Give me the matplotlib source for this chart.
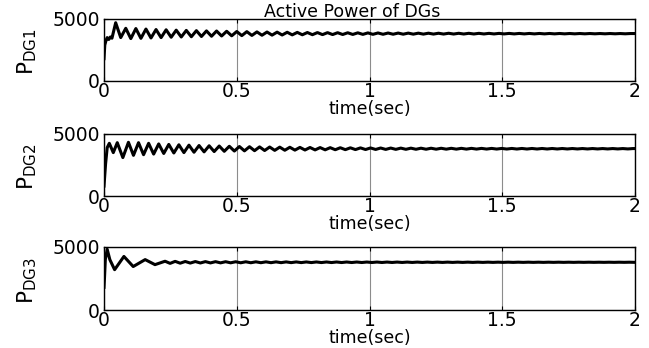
import numpy as np
import matplotlib
matplotlib.use("Agg")
import matplotlib.pyplot as plt

# ---------------------------------------------------------------
# Simulated active power of three distributed generators (W)
# ---------------------------------------------------------------
half_period = 0.019  # spacing between successive ripple extremes (s)
t_end = 2.0

# DG1: start-up transient, then alternating ripple peaks / troughs
dg1_t_start = [0.0, 0.003, 0.008, 0.012, 0.018, 0.024, 0.030]
dg1_p_start = [1800, 2900, 3300, 3500, 3350, 3550, 3450]
dg1_t_ripple0 = 0.044
dg1_peaks = [4700, 4250, 4230, 4190, 4150, 4130, 4100, 4080, 4060, 4040,
             4030, 4010, 3990, 3980, 3960, 3950, 3940, 3930, 3920, 3910,
             3905, 3900, 3895, 3890, 3885, 3880, 3875, 3870, 3866, 3862,
             3858, 3855, 3852, 3850, 3848, 3846, 3844, 3842, 3840, 3838,
             3836, 3835, 3834, 3833, 3832, 3831, 3830, 3830, 3829, 3829,
             3828, 3828]
dg1_troughs = [3500, 3420, 3440, 3470, 3500, 3530, 3550, 3570, 3590, 3610,
               3630, 3645, 3660, 3675, 3690, 3700, 3710, 3720, 3728, 3735,
               3740, 3745, 3750, 3755, 3760, 3764, 3768, 3772, 3775, 3778,
               3781, 3784, 3786, 3788, 3790, 3792, 3794, 3796, 3797, 3798,
               3799, 3800, 3801, 3802, 3803, 3804, 3805, 3806, 3806, 3807,
               3807]

# DG2
dg2_t_start = [0.0, 0.006, 0.012, 0.020, 0.035, 0.050, 0.071]
dg2_p_start = [800, 2600, 3900, 4250, 3500, 4300, 3100]
dg2_t_ripple0 = 0.092
dg2_peaks = [4330, 4300, 4250, 4200, 4160, 4130, 4100, 4070, 4050, 4030,
             4010, 3990, 3975, 3960, 3950, 3940, 3930, 3920, 3912, 3905,
             3898, 3892, 3886, 3880, 3875, 3870, 3866, 3862, 3858, 3855,
             3852, 3849, 3846, 3844, 3842, 3840, 3838, 3836, 3835, 3834,
             3833, 3832, 3831, 3830, 3829, 3828, 3828, 3827, 3827, 3826,
             3826]
dg2_troughs = [3280, 3330, 3380, 3430, 3470, 3500, 3530, 3560, 3585, 3605,
               3625, 3640, 3655, 3668, 3680, 3690, 3700, 3710, 3718, 3725,
               3732, 3738, 3744, 3749, 3754, 3758, 3762, 3766, 3769, 3772,
               3775, 3777, 3779, 3781, 3783, 3785, 3786, 3787, 3788, 3789,
               3790, 3791, 3792, 3793, 3794, 3794, 3795, 3795, 3796, 3796]

# DG3
dg3_t_start = [0.0, 0.002, 0.005, 0.012, 0.022, 0.040, 0.075, 0.110, 0.155, 0.192]
dg3_p_start = [1800, 2600, 4000, 4820, 4000, 3200, 4250, 3450, 4000, 3600]
dg3_t_ripple0 = 0.230
dg3_peaks = [3870, 3860, 3850, 3845, 3840, 3836, 3832, 3829, 3826, 3823,
             3821, 3819, 3817, 3815, 3813, 3812, 3811, 3810, 3809, 3808,
             3807, 3806, 3805, 3804, 3803, 3802, 3801, 3800, 3800, 3799,
             3799, 3798, 3798, 3797, 3797, 3796, 3796, 3795, 3795, 3795,
             3794, 3794, 3794, 3793, 3793, 3793, 3793]
dg3_troughs = [3700, 3715, 3725, 3732, 3737, 3741, 3745, 3748, 3751, 3754,
               3756, 3758, 3760, 3762, 3764, 3765, 3766, 3767, 3768, 3769,
               3770, 3771, 3772, 3773, 3774, 3775, 3776, 3776, 3777, 3777,
               3778, 3778, 3779, 3779, 3779, 3780, 3780, 3780, 3781, 3781,
               3781, 3782, 3782, 3782, 3782, 3783, 3783]

ylabels = [r"$\mathrm{P_{DG1}}$", r"$\mathrm{P_{DG2}}$", r"$\mathrm{P_{DG3}}$"]
xticks = [0, 0.5, 1, 1.5, 2]
xticklabels = ["0", "0.5", "1", "1.5", "2"]
yticks = [0, 5000]
yticklabels = ["0", "5000"]
title = "Active Power of DGs"
xlabel = "time(sec)"


def build_trace(t_start, p_start, t0, peaks, troughs):
    """Join the transient samples with the interleaved ripple extremes."""
    ripple = np.empty(len(peaks) + len(troughs))
    ripple[0::2] = peaks
    ripple[1::2] = troughs
    t_ripple = t0 + half_period * np.arange(len(ripple))
    t = np.concatenate([t_start, t_ripple, [t_end]])
    p = np.concatenate([p_start, ripple, [ripple[-1]]])
    return t, p


traces = [
    build_trace(dg1_t_start, dg1_p_start, dg1_t_ripple0, dg1_peaks, dg1_troughs),
    build_trace(dg2_t_start, dg2_p_start, dg2_t_ripple0, dg2_peaks, dg2_troughs),
    build_trace(dg3_t_start, dg3_p_start, dg3_t_ripple0, dg3_peaks, dg3_troughs),
]

plt.rcParams["font.family"] = ["DejaVu Sans"]
plt.rcParams["mathtext.fontset"] = "dejavusans"

W, H = 649, 348
fig = plt.figure(figsize=(W / 100, H / 100), dpi=100)
fig.patch.set_facecolor("white")

# (top, bottom) pixel rows of each panel
panel_rows = [(19, 81), (134, 196), (247, 310)]
left_px, right_px = 104, 635

for (top, bot), (t, p), ylab in zip(panel_rows, traces, ylabels):
    ax = fig.add_axes([left_px / W, (H - bot) / H, (right_px - left_px) / W, (bot - top) / H])
    ax.plot(t, p, color="black", linewidth=2.2, solid_joinstyle="round")
    ax.set_xlim(0, 2)
    ax.set_ylim(0, 5000)
    ax.set_xticks(xticks)
    ax.set_xticklabels(xticklabels)
    ax.set_yticks(yticks)
    ax.set_yticklabels(yticklabels)
    ax.tick_params(direction="in", length=3, width=0.8, top=True, right=True,
                   labelsize=13.5, pad=3, colors="black")
    ax.tick_params(axis="x", pad=1)
    ax.grid(True, color="#8c8c8c", linewidth=0.8)
    ax.set_axisbelow(True)
    for s in ax.spines.values():
        s.set_linewidth(1.0)
        s.set_color("black")
    ax.set_xlabel(xlabel, fontsize=12.5, labelpad=-1)
    ax.set_ylabel(ylab, fontsize=15.5, rotation=90, ha="center", va="center")
    ax.yaxis.set_label_coords((27.5 - left_px) / (right_px - left_px), 0.47)

fig.text(352 / W, (H - 17) / H, title, ha="center", va="baseline", fontsize=12.5)

fig.savefig("out.png", dpi=100, facecolor="white")
